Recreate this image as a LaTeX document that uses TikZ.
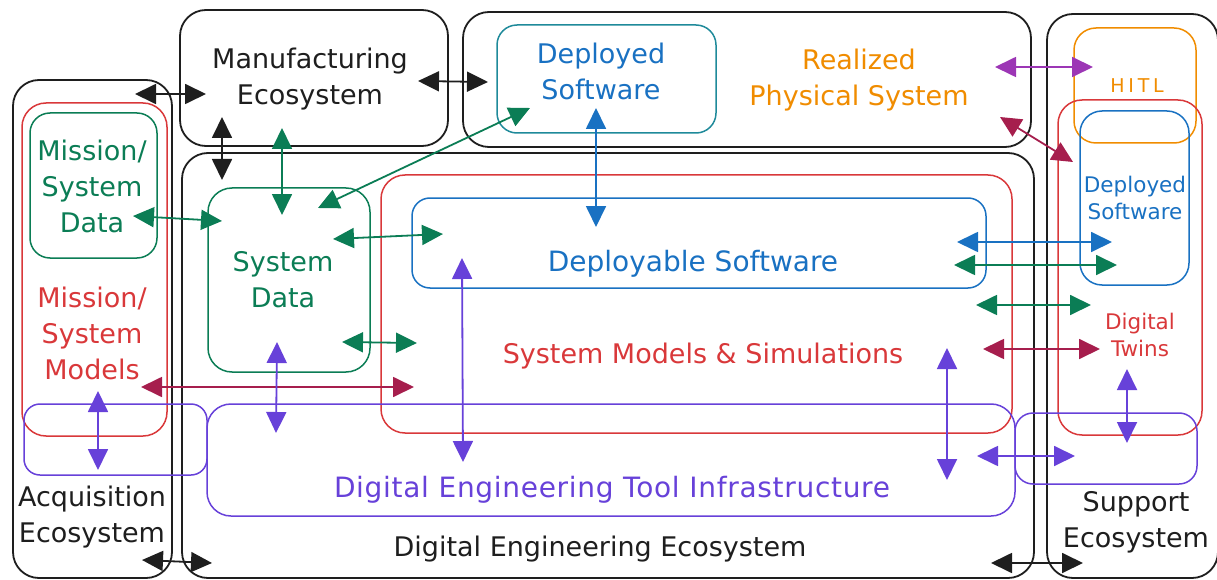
\documentclass[tikz,border=0pt]{standalone}
\usepackage{fontspec}
\setmainfont{DejaVu Sans}
\usetikzlibrary{arrows.meta}
\definecolor{ink}{HTML}{1E1E1E}
\definecolor{cgreen}{HTML}{0B7D55}
\definecolor{cred}{HTML}{D9383A}
\definecolor{cblue}{HTML}{1971C2}
\definecolor{cteal}{HTML}{1F8A9A}
\definecolor{cpurple}{HTML}{6741D9}
\definecolor{corange}{HTML}{F08C00}
\definecolor{ccrimson}{HTML}{A61E4D}
\definecolor{cgrape}{HTML}{9C36B5}
\tikzset{
  frame/.style={draw=#1, rounded corners=24pt, line width=1.5pt, inner sep=0pt, fill=none},
  blk/.style={draw=ink, rounded corners=26pt, line width=1.8pt, inner sep=0pt},
  lbl/.style={text=#1, align=center, inner sep=0pt},
  big/.style={font=\fontsize{27}{36}\selectfont},
  small/.style={font=\fontsize{21.5}{27}\selectfont},
  conn/.style={draw=#1, line width=1.8pt, {Triangle[length=21pt,width=20pt]}-{Triangle[length=21pt,width=20pt]}},
}
\begin{document}
\begin{tikzpicture}[x=1pt,y=-1pt]
\useasboundingbox (0,0) rectangle (1217,580);
% outer ecosystems
\node[blk, minimum width=159pt, minimum height=498pt] (acq) at (92.5,329) {};
\node[blk, minimum width=268pt, minimum height=136pt] (mfg) at (314,78) {};
\node[blk, minimum width=568pt, minimum height=135pt] (real) at (747,79.5) {};
\node[blk, minimum width=171pt, minimum height=564pt] (supp) at (1132.5,296) {};
\node[blk, minimum width=852pt, minimum height=425pt] (dee) at (608,365.5) {};
% inner boxes
\node[frame=cteal, rounded corners=20pt, minimum width=219pt, minimum height=108pt] (dswtop) at (606.5,79) {};
\node[frame=corange, rounded corners=22pt, minimum width=122pt, minimum height=115pt] (hitl) at (1135,85.5) {};
\node[frame=cred, minimum width=144pt, minimum height=335pt] (twins) at (1130,267.5) {};
\node[frame=cblue, rounded corners=22pt, minimum width=109pt, minimum height=174pt] (dswr) at (1134.5,198) {};
\node[frame=cpurple, rounded corners=18pt, minimum width=182pt, minimum height=71pt] (supppur) at (1106,448.5) {};
\node[frame=cred, minimum width=631pt, minimum height=258pt] (msm) at (696.5,304) {};
\node[frame=cblue, rounded corners=18pt, minimum width=574pt, minimum height=90pt] (depl) at (699,243) {};
\node[frame=cgreen, minimum width=162pt, minimum height=184pt] (sysdata) at (289,280) {};
\node[frame=cpurple, minimum width=808pt, minimum height=112pt] (tool) at (611,460) {};
\node[frame=cred, minimum width=145pt, minimum height=333pt] (acqred) at (94.5,269.5) {};
\node[frame=cgreen, rounded corners=20pt, minimum width=127pt, minimum height=145pt] (acqgreen) at (93.5,185.5) {};
\node[frame=cpurple, rounded corners=16pt, minimum width=183pt, minimum height=71pt] (acqpur) at (115.5,439.5) {};
% labels
\node[lbl=ink, big] (tmfg) at (310,79) {Manufacturing\\Ecosystem};
\node[lbl=cblue, big] (tdswtop) at (601,71) {Deployed\\Software};
\node[lbl=corange, big] (treal) at (859,80) {Realized\\Physical System};
\node[lbl=corange, font=\fontsize{19}{22}\selectfont\addfontfeature{LetterSpace=20}] (thitl) at (1137,86) {HITL};
\node[lbl=cblue, small] (tdswr) at (1135,198) {Deployed\\Software};
\node[lbl=cred, small] (ttwins) at (1140,335) {Digital\\Twins};
\node[lbl=ink, big] (tsupp) at (1136,522) {Support\\Ecosystem};
\node[lbl=cgreen, big] (tacqdata) at (92,186) {Mission/\\System\\Data};
\node[lbl=cred, big] (tacqmod) at (92,333) {Mission/\\System\\Models};
\node[lbl=ink, big] (tacq) at (92,517) {Acquisition\\Ecosystem};
\node[lbl=cgreen, big] (tsysdata) at (283,280) {System\\Data};
\node[lbl=cblue, font=\fontsize{28}{36}\selectfont] (tdepl) at (693,264) {Deployable Software};
\node[lbl=cred, big] (tmsm) at (703,356) {System Models \& Simulations};
\node[lbl=cpurple, font=\fontsize{28}{36}\selectfont\addfontfeature{LetterSpace=2.5}] (ttool) at (612,490) {Digital Engineering Tool Infrastructure};
\node[lbl=ink, big] (tdee) at (600,549) {Digital Engineering Ecosystem};
% connector end points
\coordinate (acqMfg) at (135,94);   \coordinate (mfgAcq) at (206,94);
\coordinate (mfgReal) at (418,81);  \coordinate (realMfg) at (488,82);
\coordinate (mfgDee) at (222,117);  \coordinate (deeMfg) at (222,180);
\coordinate (mfgSd) at (282,128);   \coordinate (sdMfg) at (282,215);
\coordinate (sdDsw) at (318,208);   \coordinate (dswSd) at (530,108);
\coordinate (agSd) at (133,216);    \coordinate (sdAg) at (222,221);
\coordinate (sdDepl) at (333,239);  \coordinate (deplSd) at (443,234);
\coordinate (sdMsm) at (342,342);   \coordinate (msmSd) at (417,343);
\coordinate (arMsm) at (141,387);   \coordinate (msmAr) at (414,387);
\coordinate (sdTool) at (277,342);  \coordinate (toolSd) at (276,433);
\coordinate (arAp) at (98,391);     \coordinate (apAr) at (98,470);
\coordinate (deplTool) at (462,258);\coordinate (toolDepl) at (463,462);
\coordinate (dswDepl) at (596,108); \coordinate (deplDsw) at (596,227);
\coordinate (msmTool) at (947,348); \coordinate (toolMsm) at (947,480);
\coordinate (toolSp) at (977,456);  \coordinate (spTool) at (1075,456);
\coordinate (twSp) at (1127,369);   \coordinate (spTw) at (1127,443);
\coordinate (msmTw) at (983,349);   \coordinate (twMsm) at (1100,349);
\coordinate (msmTwG) at (976,305);  \coordinate (twMsmG) at (1091,305);
\coordinate (deplDr) at (954,265);  \coordinate (drDepl) at (1117,265);
\coordinate (deplDrB) at (957,242); \coordinate (drDeplB) at (1112,242);
\coordinate (realTw) at (1000,117); \coordinate (twReal) at (1073,162);
\coordinate (realHitl) at (995,67); \coordinate (hitlReal) at (1093,67);
\coordinate (acqDee) at (142,560);  \coordinate (deeAcq) at (212,563);
\coordinate (deeSupp) at (991,563); \coordinate (suppDee) at (1083,563);
% connectors
\draw[conn=ink] (acqMfg) -- (mfgAcq);
\draw[conn=ink] (mfgReal) -- (realMfg);
\draw[conn=ink] (mfgDee) -- (deeMfg);
\draw[conn=cgreen] (mfgSd) -- (sdMfg);
\draw[conn=cgreen] (sdDsw) -- (dswSd);
\draw[conn=cgreen] (agSd) -- (sdAg);
\draw[conn=cgreen] (sdDepl) -- (deplSd);
\draw[conn=cgreen] (sdMsm) -- (msmSd);
\draw[conn=ccrimson] (arMsm) -- (msmAr);
\draw[conn=cpurple] (sdTool) -- (toolSd);
\draw[conn=cpurple] (arAp) -- (apAr);
\draw[conn=cpurple] (deplTool) -- (toolDepl);
\draw[conn=cblue] (dswDepl) -- (deplDsw);
\draw[conn=cpurple] (msmTool) -- (toolMsm);
\draw[conn=cpurple] (toolSp) -- (spTool);
\draw[conn=cpurple] (twSp) -- (spTw);
\draw[conn=ccrimson] (msmTw) -- (twMsm);
\draw[conn=cgreen] (msmTwG) -- (twMsmG);
\draw[conn=cgreen] (deplDr) -- (drDepl);
\draw[conn=cblue] (deplDrB) -- (drDeplB);
\draw[conn=ccrimson] (realTw) -- (twReal);
\draw[conn=cgrape] (realHitl) -- (hitlReal);
\draw[conn=ink] (acqDee) -- (deeAcq);
\draw[conn=ink] (deeSupp) -- (suppDee);
\end{tikzpicture}
\end{document}
